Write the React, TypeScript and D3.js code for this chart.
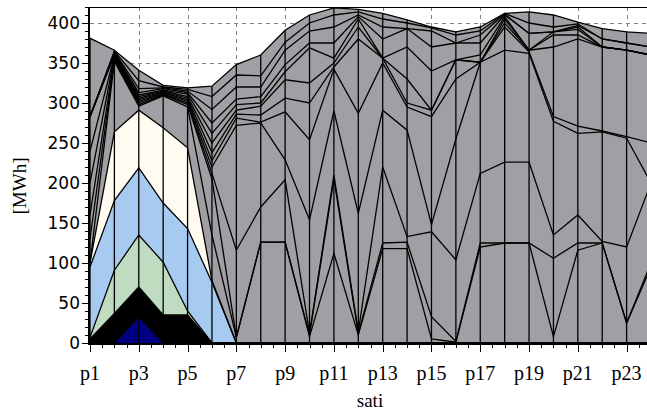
import React from "react";
import * as d3 from "d3";

const hours = Array.from({ length: 24 }, (_, i) => "p" + (i + 1));
const labelHours = ["p1","p3","p5","p7","p9","p11","p13","p15","p17","p19","p21","p23"];
const yTicks = [0, 50, 100, 150, 200, 250, 300, 350, 400];

// colored units (bottom of the stack)
const navy  = [0,0,33,0,0,0,0,0,0,0,0,0,0,0,0,0,0,0,0,0,0,0,0,0];
const black = [5,37,37,35,35,0,0,0,0,0,0,0,0,0,0,0,0,0,0,0,0,0,0,0];
const green = [2,54,65,66,5,0,0,0,0,0,0,0,0,0,0,0,0,0,0,0,0,0,0,0];
const blue  = [88,87,84,74,103,76,0,0,0,0,0,0,0,0,0,0,0,0,0,0,0,0,0,0];
const cream = [5,86,72,94,101,2,0,0,0,0,0,0,0,0,0,0,0,0,0,0,0,0,0,0];
// gray units
const g1  = [0,88,5,40,51,57,7,126,126,8,112,10,118,118,5,1,120,125,125,8,116,125,25,95];
const g2  = [30,2,2,1,3,70,0,0,0,2,93,2,7,8,28,1,5,0,0,98,9,0,0,5];
const g3  = [30,2,2,1,2,7,109,44,78,2,5,2,95,7,106,102,87,101,101,29,35,2,95,100];
const g4  = [40,2,2,1,2,8,156,105,25,142,80,148,71,133,9,151,139,140,136,142,102,137,136,0];
const g5  = [40,1,2,1,2,8,9,1,60,100,52,125,59,29,135,75,0,29,2,6,9,1,2,50];
const g6  = [43,1,2,1,2,10,5,9,17,46,3,93,6,5,8,24,0,5,2,87,109,105,108,110];
const g7  = [0,1,2,1,2,12,5,11,23,25,5,15,0,30,0,0,0,5,0,15,5,0,0,0];
const g8  = [0,1,2,1,3,12,7,4,10,44,6,10,0,40,49,0,9,3,0,4,7,0,0,0];
const g9  = [0,1,3,2,2,13,7,8,9,6,19,3,24,23,30,21,15,2,21,0,3,0,0,0];
const g10 = [0,1,5,1,2,17,15,12,18,15,20,2,15,0,20,0,10,1,0,0,2,10,9,10];
const g11 = [0,1,10,1,2,16,15,14,10,10,15,4,10,7,4,10,5,1,13,6,2,0,0,0];
const g12 = [98,1,13,2,2,13,13,26,15,10,9,3,7,4,1,4,5,0,14,15,2,13,14,17];

const GRAY = "#a0a0a4";
const seriesList = [
  { key: "navy", values: navy, color: "#000080" },
  { key: "black", values: black, color: "#000000" },
  { key: "green", values: green, color: "#c0dcc0" },
  { key: "blue", values: blue, color: "#a6caf0" },
  { key: "cream", values: cream, color: "#fffbf0" },
  { key: "g1", values: g1, color: GRAY },
  { key: "g2", values: g2, color: GRAY },
  { key: "g3", values: g3, color: GRAY },
  { key: "g4", values: g4, color: GRAY },
  { key: "g5", values: g5, color: GRAY },
  { key: "g6", values: g6, color: GRAY },
  { key: "g7", values: g7, color: GRAY },
  { key: "g8", values: g8, color: GRAY },
  { key: "g9", values: g9, color: GRAY },
  { key: "g10", values: g10, color: GRAY },
  { key: "g11", values: g11, color: GRAY },
  { key: "g12", values: g12, color: GRAY },
];

export default function App() {
  const W = 647, H = 412;
  const left = 90, right = 651, top = 7, bottom = 343;
  const x = d3.scalePoint<string>().domain(hours).range([left, right]);
  const y = d3.scaleLinear().domain([0, 420]).range([bottom, top]);

  const table = hours.map((h, i) => {
    const row: any = { hour: h };
    seriesList.forEach((s) => (row[s.key] = s.values[i]));
    return row;
  });
  const stacked = d3.stack<any>().keys(seriesList.map((s) => s.key))(table);
  const area = d3.area<any>()
    .x((d) => x(d.data.hour) as number)
    .y0((d) => y(d[0]))
    .y1((d) => y(d[1]));
  const line = d3.line<any>()
    .x((d) => x(d.data.hour) as number)
    .y((d) => y(d[1]));
  const totals = stacked[stacked.length - 1];

  const step = x.step();
  const minorX: number[] = [];
  hours.forEach((h) => {
    const px = x(h) as number;
    if (!labelHours.includes(h)) minorX.push(px);
    minorX.push(px + step / 2);
  });
  const minorY = d3.range(0, 421, 10).filter((v) => v % 50 !== 0);

  return (
    <svg width={W} height={H} style={{ position: "absolute", left: 0, top: 0, background: "#fff" }}>
      <defs>
        <clipPath id="plot">
          <rect x={left} y={top} width={right - left} height={bottom - top} />
        </clipPath>
      </defs>
      {/* grid */}
      <g stroke="#808080" strokeDasharray="4,4" strokeWidth={1}>
        {yTicks.filter((v) => v > 0).map((v) => (
          <line key={"gy" + v} x1={left} x2={W} y1={Math.round(y(v)) + 0.5} y2={Math.round(y(v)) + 0.5} />
        ))}
        {labelHours.slice(1).map((h) => (
          <line key={"gx" + h} x1={Math.round(x(h) as number) + 0.5} x2={Math.round(x(h) as number) + 0.5} y1={top} y2={bottom} />
        ))}
      </g>
      <g clipPath="url(#plot)">
        {stacked.map((s, i) => (
          <path key={"a" + i} d={area(s) as string} fill={seriesList[i].color} stroke="none" />
        ))}
        {stacked.map((s, i) => (
          <path key={"l" + i} d={line(s) as string} fill="none" stroke="#000" strokeWidth={1.3} />
        ))}
        {totals.map((d, i) => (
          <line key={"v" + i} x1={x(d.data.hour)} x2={x(d.data.hour)} y1={y(0)} y2={y(d[1])} stroke="#000" strokeWidth={1.3} />
        ))}
      </g>
      {/* frame */}
      <line x1={left - 1} x2={W} y1={top + 0.5} y2={top + 0.5} stroke="#000" strokeWidth={1} />
      <line x1={left - 1} x2={left - 1} y1={top} y2={bottom + 1} stroke="#000" strokeWidth={2} />
      <line x1={left - 2} x2={W} y1={bottom + 1} y2={bottom + 1} stroke="#000" strokeWidth={2} />
      {/* ticks */}
      <g stroke="#000" strokeWidth={1}>
        {yTicks.map((v) => (
          <line key={"ty" + v} x1={left - 8} x2={left - 1} y1={Math.round(y(v)) + 0.5} y2={Math.round(y(v)) + 0.5} />
        ))}
        {minorY.map((v) => (
          <line key={"my" + v} x1={left - 5} x2={left - 1} y1={Math.round(y(v)) + 0.5} y2={Math.round(y(v)) + 0.5} />
        ))}
        {labelHours.map((h) => (
          <line key={"tx" + h} x1={Math.round(x(h) as number) + 0.5} x2={Math.round(x(h) as number) + 0.5} y1={bottom} y2={bottom + 9} />
        ))}
        {minorX.map((px, i) => (
          <line key={"mx" + i} x1={Math.round(px) + 0.5} x2={Math.round(px) + 0.5} y1={bottom} y2={bottom + 5} />
        ))}
      </g>
      <g fontFamily="DejaVu Sans, Verdana, sans-serif" fontSize={17} fill="#000" textAnchor="end">
        {yTicks.map((v) => (
          <text key={"yl" + v} x={left - 10} y={y(v)} dy="0.36em">{v}</text>
        ))}
      </g>
      <g fontFamily="Liberation Serif, Times New Roman, serif" fontSize={20} fill="#000" textAnchor="middle">
        {labelHours.map((h) => (
          <text key={"xl" + h} x={x(h)} y={380}>{h}</text>
        ))}
        <text x={370} y={407} fontSize={19}>sati</text>
        <text transform="translate(26,186) rotate(-90)" fontSize={19}>[MWh]</text>
      </g>
    </svg>
  );
}
